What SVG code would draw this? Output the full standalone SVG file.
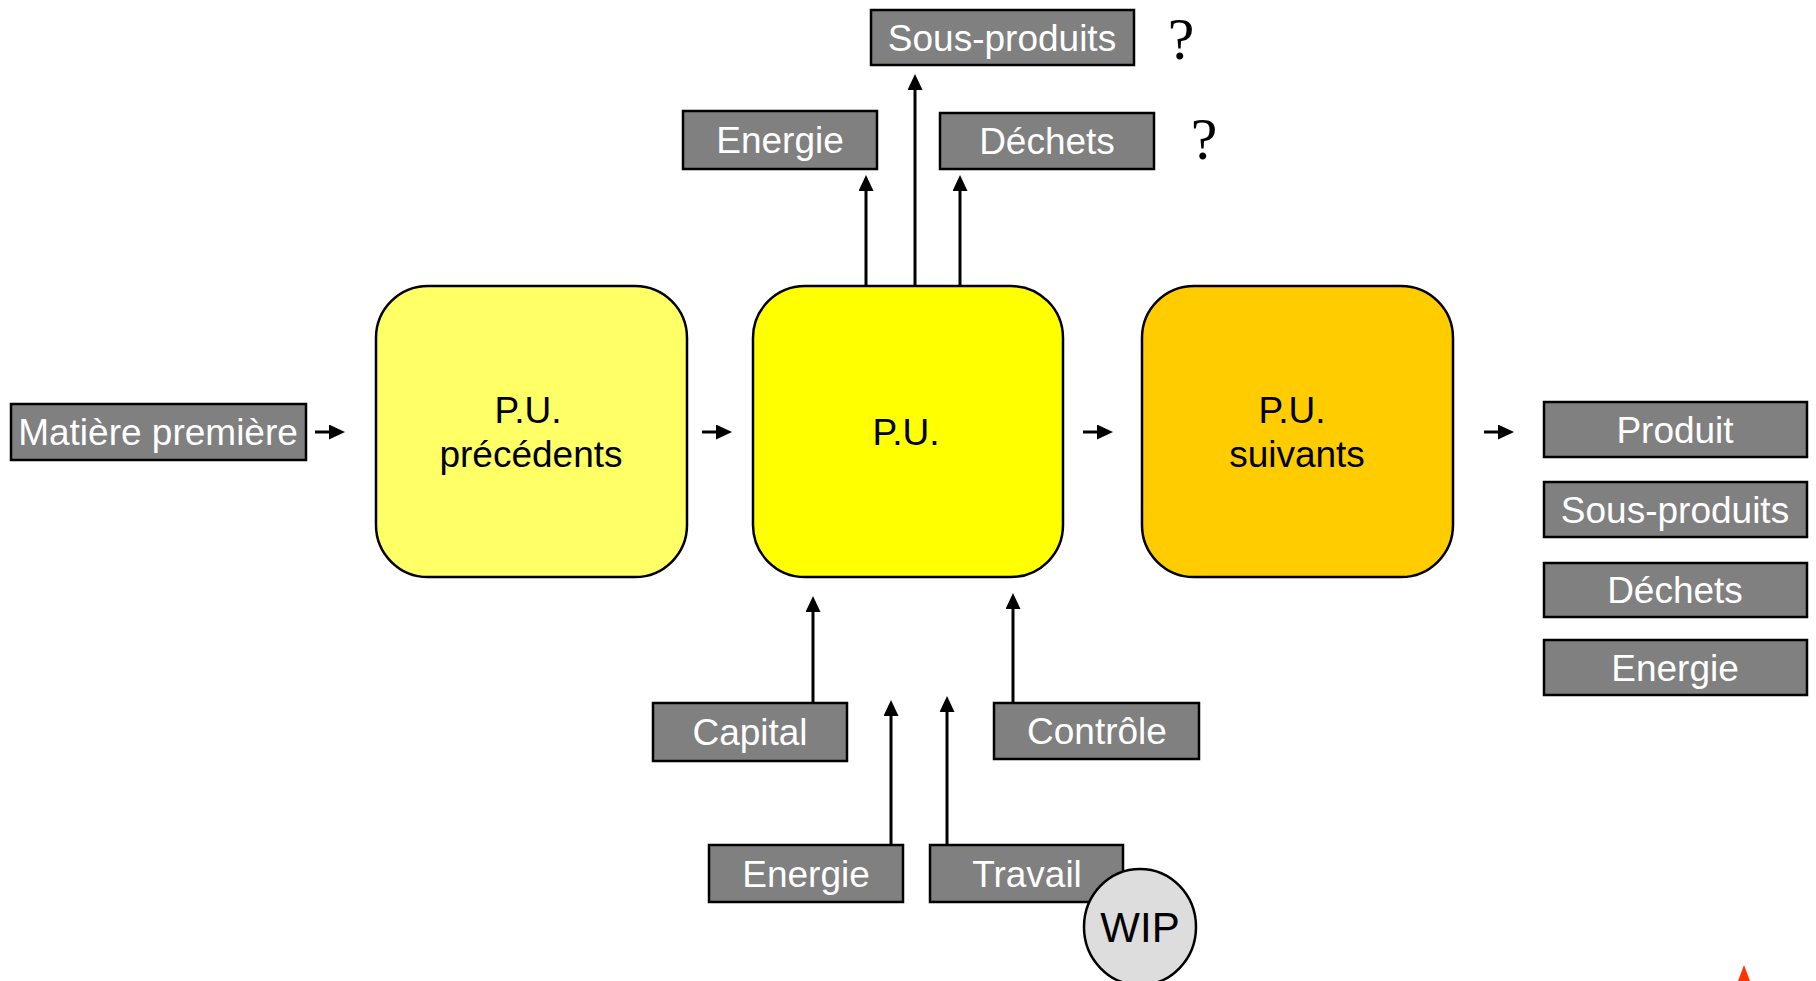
<svg xmlns="http://www.w3.org/2000/svg" width="1816" height="981" viewBox="0 0 1816 981">
<style>
.g rect{fill:#808080;stroke:#000;stroke-width:2.5}
.g text{fill:#fff;font-family:"Liberation Sans",Arial,sans-serif;font-size:37px;text-anchor:middle}
.pu rect{stroke:#000;stroke-width:2.5}
.pu text{fill:#000;font-family:"Liberation Sans",Arial,sans-serif;font-size:37px;text-anchor:middle}
.q{fill:#000;font-family:"Liberation Serif","Times New Roman",serif;font-size:60px;text-anchor:middle}
#connectors line{stroke:#000;stroke-width:3;marker-end:url(#ah)}
</style>
<defs>
<marker id="ah" markerUnits="userSpaceOnUse" markerWidth="18" markerHeight="16" refX="4" refY="7.5" orient="auto">
<path d="M0,0 L16,7.5 L0,15 Z" fill="#000"/>
</marker>
</defs>
<rect width="1816" height="981" fill="#fff"/>

<g id="connectors">
<line x1="315" y1="432" x2="333" y2="432"/>
<line x1="702" y1="432" x2="720" y2="432"/>
<line x1="1083" y1="432" x2="1101" y2="432"/>
<line x1="1484" y1="432" x2="1502" y2="432"/>
<line x1="866" y1="286" x2="866" y2="187"/>
<line x1="915" y1="286" x2="915" y2="86"/>
<line x1="960" y1="286" x2="960" y2="187"/>
<line x1="813" y1="703" x2="813" y2="608"/>
<line x1="891" y1="845" x2="891" y2="712"/>
<line x1="947" y1="845" x2="947" y2="708"/>
<line x1="1013" y1="703" x2="1013" y2="605"/>
</g>

<g id="matiere" class="g"><rect x="11" y="404" width="295" height="56"/><text x="158" y="445">Matière première</text></g>

<g id="pu-prec" class="pu"><rect x="376" y="286" width="311" height="291" rx="52" ry="52" fill="#FFFF66"/><text x="528" y="423">P.U.</text><text x="531" y="467">précédents</text></g>
<g id="pu" class="pu"><rect x="753" y="286" width="310" height="291" rx="52" ry="52" fill="#FFFF00"/><text x="906" y="445">P.U.</text></g>
<g id="pu-suiv" class="pu"><rect x="1142" y="286" width="311" height="291" rx="52" ry="52" fill="#FFCC00"/><text x="1292" y="423">P.U.</text><text x="1297" y="467">suivants</text></g>

<g id="top-sous-produits" class="g"><rect x="871" y="10" width="263" height="55"/><text x="1002" y="51">Sous-produits</text></g>
<g id="top-energie" class="g"><rect x="683" y="111" width="194" height="58"/><text x="780" y="153">Energie</text></g>
<g id="top-dechets" class="g"><rect x="940" y="113" width="214" height="56"/><text x="1047" y="154">Déchets</text></g>
<text class="q" x="1181" y="59">?</text>
<text class="q" x="1204" y="159">?</text>

<g id="capital" class="g"><rect x="653" y="703" width="194" height="58"/><text x="750" y="745">Capital</text></g>
<g id="controle" class="g"><rect x="994" y="703" width="205" height="56"/><text x="1097" y="744">Contrôle</text></g>
<g id="bottom-energie" class="g"><rect x="709" y="845" width="194" height="57"/><text x="806" y="887">Energie</text></g>
<g id="travail" class="g"><rect x="930" y="845" width="193" height="57"/><text x="1027" y="887">Travail</text></g>

<g id="wip"><ellipse cx="1140" cy="927" rx="56" ry="58" fill="#DDDDDD" stroke="#000" stroke-width="2.5"/><text x="1140" y="942" font-family="Liberation Sans,Arial,sans-serif" font-size="42" text-anchor="middle" fill="#000">WIP</text></g>

<g id="produit" class="g"><rect x="1544" y="402" width="263" height="55"/><text x="1675" y="443">Produit</text></g>
<g id="right-sous-produits" class="g"><rect x="1544" y="482" width="263" height="55"/><text x="1675" y="523">Sous-produits</text></g>
<g id="right-dechets" class="g"><rect x="1544" y="563" width="263" height="54"/><text x="1675" y="603">Déchets</text></g>
<g id="right-energie" class="g"><rect x="1544" y="640" width="263" height="55"/><text x="1675" y="681">Energie</text></g>

<polygon points="1744,965 1738,981 1750,981" fill="#FF3300"/>
</svg>
